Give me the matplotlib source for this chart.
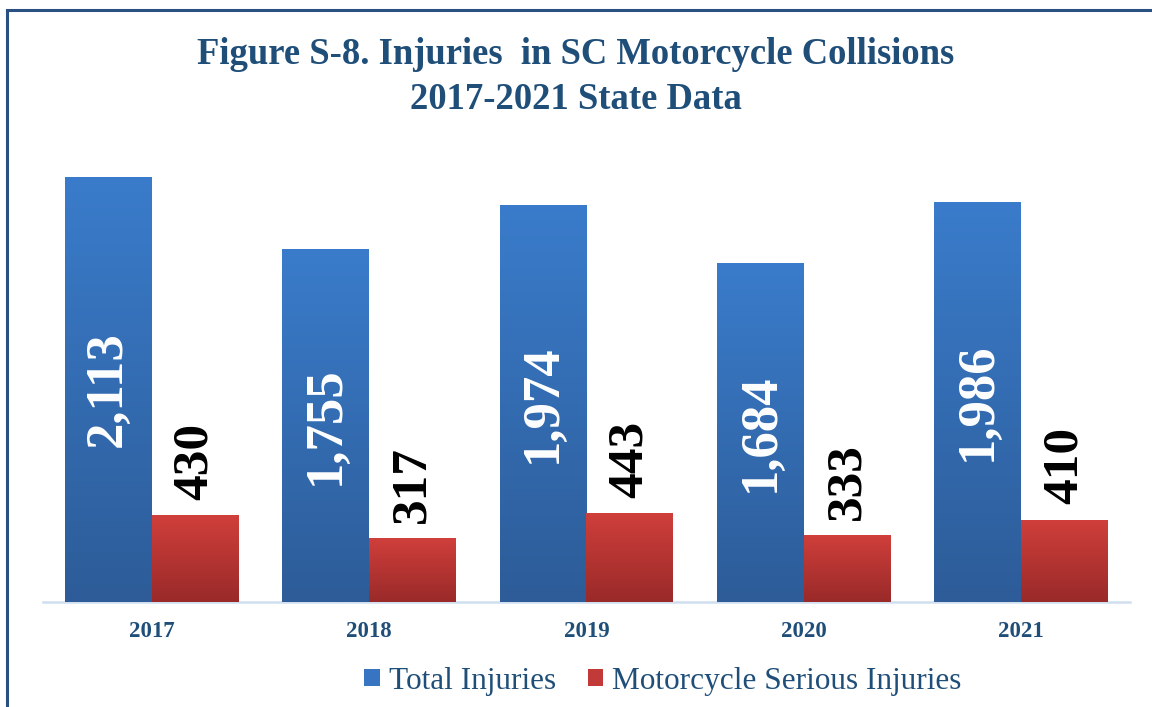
import numpy as np
import matplotlib.pyplot as plt
from matplotlib.colors import LinearSegmentedColormap
from matplotlib.patches import Rectangle

years = ["2017", "2018", "2019", "2020", "2021"]
total_injuries = [2113, 1755, 1974, 1684, 1986]
serious_injuries = [430, 317, 443, 333, 410]

title_color = "#1F4E79"
serif = ["Liberation Serif", "DejaVu Serif"]

fig = plt.figure(figsize=(11.52, 7.07), dpi=100)
ax = fig.add_axes([0.0373, 0.1485, 0.9436, 0.7115])

x = np.arange(len(years))
w = 0.4
bars_t = ax.bar(x - w / 2, total_injuries, w, color="#3775C2", zorder=2)
bars_s = ax.bar(x + w / 2, serious_injuries, w, color="#C23A37", zorder=2)

# vertical gradient fill clipped to each bar
blue_cm = LinearSegmentedColormap.from_list("b", ["#2D5C98", "#3A7CCB"])
red_cm = LinearSegmentedColormap.from_list("r", ["#992A29", "#D03F3B"])
grad = np.linspace(0, 1, 256).reshape(-1, 1)
for bars, cm in [(bars_t, blue_cm), (bars_s, red_cm)]:
    for b in bars:
        x0, h = b.get_x(), b.get_height()
        im = ax.imshow(grad, extent=[x0, x0 + b.get_width(), 0, h], origin="lower",
                       aspect="auto", cmap=cm, zorder=3)
        im.set_clip_path(b)

ax.set_xlim(-0.5, 4.5)
ax.set_ylim(0, 2500)

for b, v in zip(bars_t, total_injuries):
    ax.text(b.get_x() + b.get_width() / 2, v / 2, f"{v:,}", rotation=90,
            ha="center", va="center", color="white", fontsize=38,
            fontweight="bold", family=serif, zorder=4)
for b, v in zip(bars_s, serious_injuries):
    ax.annotate(f"{v:,}", (b.get_x() + b.get_width() / 2, v), xytext=(0, 11),
                textcoords="offset points", rotation=90, ha="center", va="bottom",
                color="black", fontsize=37, fontweight="bold", family=serif, zorder=4)

for s in ["top", "right", "left"]:
    ax.spines[s].set_visible(False)
ax.spines["bottom"].set_color("#D0DEF0")
ax.spines["bottom"].set_linewidth(1.8)
ax.set_yticks([])
ax.set_xticks(x)
ax.set_xticklabels(years, fontsize=16.5, fontweight="bold", family=serif, color=title_color)
ax.tick_params(axis="x", length=0, pad=14)

fig.text(0.5, 1 - 77 / 707, "Figure S-8. Injuries  in SC Motorcycle Collisions\n2017-2021 State Data",
         ha="center", va="center", fontsize=26.4, fontweight="bold", family=serif,
         color=title_color, linespacing=1.36)

leg = ax.legend([bars_t, bars_s], ["Total Injuries", "Motorcycle Serious Injuries"],
                loc="center", ncol=2, frameon=False, handlelength=0.5, handleheight=0.5,
                handletextpad=0.3, columnspacing=1.0, prop={"family": serif, "size": 22.5})
leg.set_bbox_to_anchor((663 / 1152, 1 - 681 / 707), transform=fig.transFigure)
for t in leg.get_texts():
    t.set_color(title_color)

fig.patches.append(Rectangle((7 / 1152, -0.1), 1.2, 1.1 - 10 / 707,
                             transform=fig.transFigure, fill=False,
                             edgecolor="#2A5082", linewidth=2.2))

fig.savefig("out.png", dpi=100)
